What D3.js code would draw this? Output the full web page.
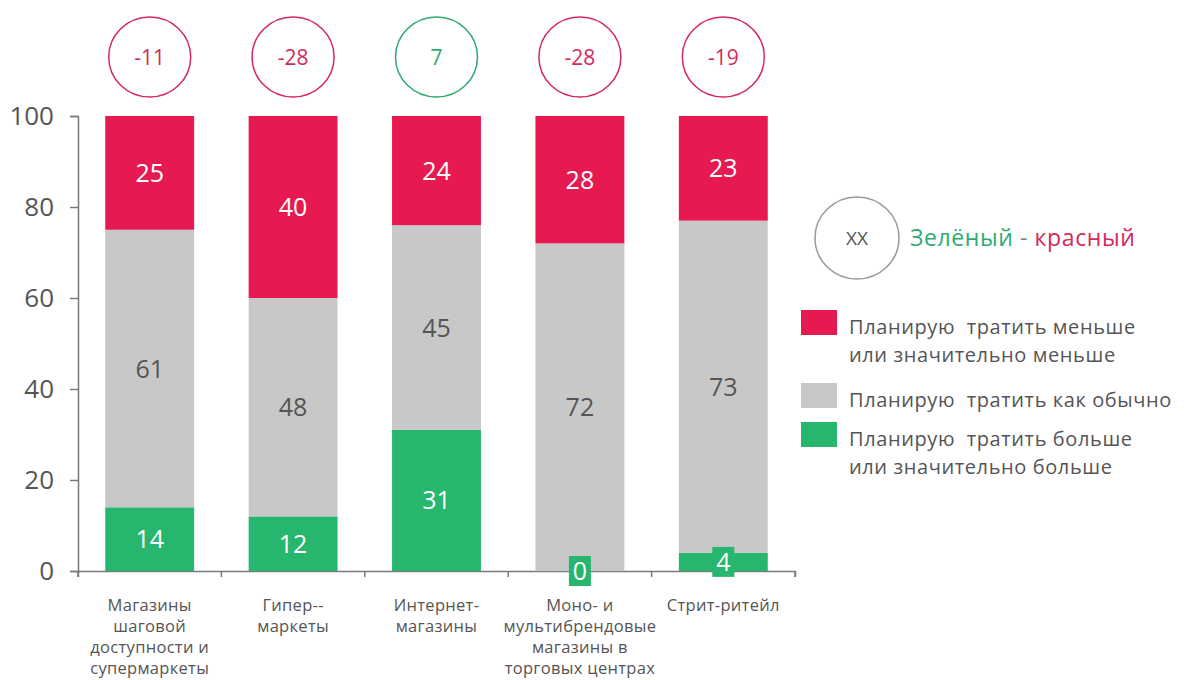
<!DOCTYPE html>
<html lang="ru">
  <head>
    <meta charset="utf-8" />
    <title>Планы расходов по каналам</title>
    <script type="text/javascript" src="https://d3js.org/d3.v7.min.js"></script>
    <style>
      body {
        margin: 0;
        background: #fff;
      }
      svg text {
        font-family: "Open Sans", sans-serif;
      }
      .axis path,
      .axis line {
        stroke: #7a7a7a;
        stroke-width: 1.5px;
      }
      .axis text {
        fill: #555;
      }
      .legend-text {
        white-space: pre;
      }
    </style>
  </head>

  <body>
    <script>
      let w = 1197;
      let h = 680;

      // данные
      let categories = [
        ["Магазины", "шаговой", "доступности и", "супермаркеты"],
        ["Гипер--", "маркеты"],
        ["Интернет-", "магазины"],
        ["Моно- и", "мультибрендовые", "магазины в", "торговых центрах"],
        ["Стрит-ритейл"],
      ];
      let more = [14, 12, 31, 0, 4]; // больше
      let same = [61, 48, 45, 72, 73]; // как обычно
      let less = [25, 40, 24, 28, 23]; // меньше
      let balance = [-11, -28, 7, -28, -19]; // зелёный - красный
      let yTicks = [0, 20, 40, 60, 80, 100];

      let legendItems = [
        { key: "less", lines: ["Планирую  тратить меньше", "или значительно меньше"] },
        { key: "same", lines: ["Планирую  тратить как обычно"] },
        { key: "more", lines: ["Планирую  тратить больше", "или значительно больше"] },
      ];

      let colors = { less: "#e61a51", same: "#c8c8c8", more: "#27b66d" };
      let red = "#d42a5a";
      let green = "#2faa70";

      let svg = d3
        .select("body")
        .append("svg")
        .attr("width", w)
        .attr("height", h);

      let names = categories.map((c) => c.join(" "));
      let rows = names.map((n, i) => ({ name: n, more: more[i], same: same[i], less: less[i] }));

      let x = d3.scaleBand().domain(names).range([78, 795]).paddingInner(0.38).paddingOuter(0.19);
      let y = d3.scaleLinear().domain([0, 100]).range([571, 116]);

      let stack = d3.stack().keys(["more", "same", "less"])(rows);

      // оси
      let yAxis = d3.axisLeft(y).tickValues(yTicks).tickSize(8).tickPadding(16);
      svg
        .append("g")
        .attr("class", "axis")
        .attr("transform", "translate(78,0)")
        .call(yAxis)
        .call((g) => g.selectAll("text").style("font-size", "26px"));

      let xAxis = d3.axisBottom(x).tickSize(6).tickFormat("");
      let gx = svg
        .append("g")
        .attr("class", "axis")
        .attr("transform", "translate(0,571)")
        .call(xAxis);
      // засечки между категориями
      gx.selectAll(".tick line").attr("transform", `translate(${-x.step() / 2},0)`);
      gx.append("line")
        .attr("x1", 795)
        .attr("x2", 795)
        .attr("y1", 0)
        .attr("y2", 6)
        .attr("stroke", "#7a7a7a")
        .attr("stroke-width", 1.5);

      // столбики
      let layers = svg
        .selectAll("g.layer")
        .data(stack)
        .join("g")
        .attr("class", "layer")
        .attr("fill", (d) => colors[d.key]);

      layers
        .selectAll("rect")
        .data((d) => d)
        .join("rect")
        .attr("x", (d) => x(d.data.name))
        .attr("width", x.bandwidth())
        .attr("y", (d) => y(d[1]))
        .attr("height", (d) => y(d[0]) - y(d[1]));

      // подписи значений
      stack.forEach((layer) => {
        layer.forEach((d) => {
          let v = d[1] - d[0];
          let cx = x(d.data.name) + x.bandwidth() / 2;
          let cy = (y(d[0]) + y(d[1])) / 2;
          if (layer.key == "more" && v < 8) {
            svg
              .append("rect")
              .attr("x", cx - 11)
              .attr("y", cy - 15)
              .attr("width", 22)
              .attr("height", 30)
              .attr("fill", colors.more);
          }
          svg
            .append("text")
            .attr("x", cx)
            .attr("y", cy)
            .attr("dy", "0.36em")
            .attr("text-anchor", "middle")
            .style("font-size", "25px")
            .attr("fill", layer.key == "same" ? "#555" : "#fff")
            .text(v);
        });
      });

      // кружки с балансом
      let badges = svg
        .selectAll("g.badge")
        .data(balance)
        .join("g")
        .attr("class", "badge")
        .attr("transform", (d, i) => `translate(${x(names[i]) + x.bandwidth() / 2},57)`);
      badges
        .append("ellipse")
        .attr("rx", 41)
        .attr("ry", 40)
        .attr("fill", "none")
        .attr("stroke", (d) => (d >= 0 ? green : red))
        .attr("stroke-width", 1.5);
      badges
        .append("text")
        .attr("text-anchor", "middle")
        .attr("dy", "0.36em")
        .style("font-size", "21px")
        .attr("fill", (d) => (d >= 0 ? green : red))
        .text((d) => d);

      // подписи категорий
      categories.forEach((lines, i) => {
        let t = svg
          .append("text")
          .attr("x", x(names[i]) + x.bandwidth() / 2)
          .attr("y", 611)
          .attr("text-anchor", "middle")
          .attr("fill", "#555")
          .style("font-size", "16.5px")
          .style("letter-spacing", "0.3px");
        lines.forEach((l, j) => {
          t.append("tspan")
            .attr("x", x(names[i]) + x.bandwidth() / 2)
            .attr("dy", j == 0 ? 0 : 21)
            .text(l);
        });
      });

      // легенда
      let lg = svg.append("g");
      lg.append("ellipse")
        .attr("cx", 857)
        .attr("cy", 238)
        .attr("rx", 42)
        .attr("ry", 41)
        .attr("fill", "none")
        .attr("stroke", "#9a9a9a")
        .attr("stroke-width", 1.5);
      lg.append("text")
        .attr("x", 857)
        .attr("y", 238)
        .attr("dy", "0.36em")
        .attr("text-anchor", "middle")
        .attr("fill", "#555")
        .style("font-size", "19px")
        .text("XX");
      let lt = lg
        .append("text")
        .attr("x", 910)
        .attr("y", 246)
        .attr("class", "legend-text")
        .style("font-size", "23px")
        .style("letter-spacing", "0.6px");
      lt.append("tspan").attr("fill", green).text("Зелёный");
      lt.append("tspan").attr("fill", "#888").text(" - ");
      lt.append("tspan").attr("fill", red).text("красный");

      let legendY = [310, 383, 422];
      legendItems.forEach((item, i) => {
        lg.append("rect")
          .attr("x", 801)
          .attr("y", legendY[i])
          .attr("width", 36)
          .attr("height", 25)
          .attr("fill", colors[item.key]);
        let t = lg
          .append("text")
          .attr("x", 849)
          .attr("y", legendY[i] + 24)
          .attr("class", "legend-text")
          .attr("fill", "#555")
          .style("font-size", "20px")
          .style("letter-spacing", "0.6px");
        item.lines.forEach((l, j) => {
          t.append("tspan")
            .attr("x", 849)
            .attr("dy", j == 0 ? 0 : 28)
            .text(l);
        });
      });
    </script>
  </body>
</html>
